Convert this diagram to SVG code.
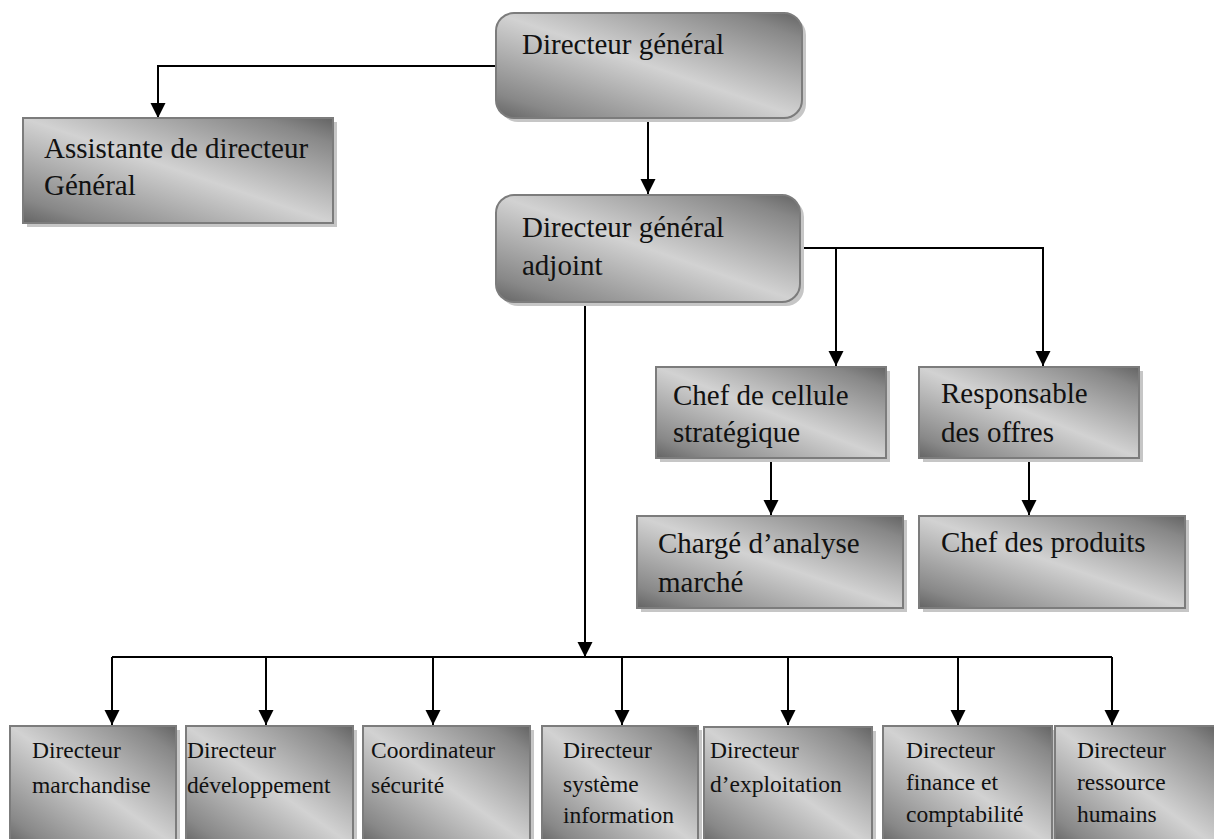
<svg xmlns="http://www.w3.org/2000/svg" width="1214" height="839" viewBox="0 0 1214 839">
  <defs>
    <!-- diagonal metallic fill: dark top-right and bottom-left, light band across the middle -->
    <linearGradient id="metal" x1="1" y1="0" x2="0" y2="1">
      <stop offset="0" stop-color="#646464"/>
      <stop offset="0.12" stop-color="#888888"/>
      <stop offset="0.5" stop-color="#d2d2d2"/>
      <stop offset="0.88" stop-color="#888888"/>
      <stop offset="1" stop-color="#646464"/>
    </linearGradient>
    <marker id="arrow" markerUnits="userSpaceOnUse" markerWidth="16" markerHeight="16" refX="15" refY="7.5" orient="auto">
      <path d="M0,0 L15,7.5 L0,15 Z" fill="#000"/>
    </marker>
  </defs>
  <style>
    .box { fill: url(#metal); stroke: #7c7c7c; stroke-width: 2; }
    .shadow { fill: #c6c6c6; }
    .lbl { font-size: 29px; fill: #111; }
    .sm { font-size: 23.5px; fill: #111; }
    .link { fill: none; stroke: #000; stroke-width: 2; }
  </style>

  <!-- connectors -->
  <g id="connectors">
    <path class="link" d="M496,66 H158 V118" marker-end="url(#arrow)"/>
    <path class="link" d="M648,118 V194" marker-end="url(#arrow)"/>
    <path class="link" d="M800,248 H1043 V366" marker-end="url(#arrow)"/>
    <path class="link" d="M836,248 V366" marker-end="url(#arrow)"/>
    <path class="link" d="M771,457 V515" marker-end="url(#arrow)"/>
    <path class="link" d="M1029,457 V515" marker-end="url(#arrow)"/>
    <path class="link" d="M585,302 V657" marker-end="url(#arrow)"/>
    <path class="link" d="M112,657 H1112"/>
    <path class="link" d="M112,657 V725" marker-end="url(#arrow)"/>
    <path class="link" d="M266,657 V725" marker-end="url(#arrow)"/>
    <path class="link" d="M433,657 V725" marker-end="url(#arrow)"/>
    <path class="link" d="M622,657 V725" marker-end="url(#arrow)"/>
    <path class="link" d="M788,657 V725" marker-end="url(#arrow)"/>
    <path class="link" d="M958,657 V725" marker-end="url(#arrow)"/>
    <path class="link" d="M1112,657 V725" marker-end="url(#arrow)"/>
  </g>

  <g font-family="Liberation Serif, serif">
  <g id="directeur-general">
    <rect class="shadow" x="500" y="17" width="306" height="105" rx="18"/>
    <rect class="box" x="496" y="13" width="306" height="105" rx="18"/>
    <text class="lbl" x="522" y="54">Directeur général</text>
  </g>

  <g id="assistante">
    <rect class="shadow" x="27" y="122" width="310" height="105"/>
    <rect class="box" x="23" y="118" width="310" height="105"/>
    <text class="lbl" x="44" y="158">Assistante de directeur</text>
    <text class="lbl" x="44" y="195">Général</text>
  </g>

  <g id="directeur-adjoint">
    <rect class="shadow" x="500" y="199" width="304" height="107" rx="18"/>
    <rect class="box" x="496" y="195" width="304" height="107" rx="18"/>
    <text class="lbl" x="522" y="237">Directeur général</text>
    <text class="lbl" x="522" y="275">adjoint</text>
  </g>

  <g id="chef-cellule">
    <rect class="shadow" x="660" y="371" width="230" height="91"/>
    <rect class="box" x="656" y="367" width="230" height="91"/>
    <text class="lbl" x="673" y="405">Chef de cellule</text>
    <text class="lbl" x="673" y="442">stratégique</text>
  </g>

  <g id="responsable-offres">
    <rect class="shadow" x="923" y="371" width="220" height="91"/>
    <rect class="box" x="919" y="367" width="220" height="91"/>
    <text class="lbl" x="941" y="403">Responsable</text>
    <text class="lbl" x="941" y="442">des offres</text>
  </g>

  <g id="charge-analyse">
    <rect class="shadow" x="641" y="520" width="266" height="92"/>
    <rect class="box" x="637" y="516" width="266" height="92"/>
    <text class="lbl" x="658" y="553">Chargé d’analyse</text>
    <text class="lbl" x="658" y="592">marché</text>
  </g>

  <g id="chef-produits">
    <rect class="shadow" x="923" y="520" width="266" height="92"/>
    <rect class="box" x="919" y="516" width="266" height="92"/>
    <text class="lbl" x="941" y="552">Chef des produits</text>
  </g>

  <g id="dir-marchandise">
    <rect class="shadow" x="14" y="730" width="166" height="120"/>
    <rect class="box" x="10" y="726" width="166" height="120"/>
    <text class="sm" x="32" y="758">Directeur</text>
    <text class="sm" x="32" y="793">marchandise</text>
  </g>

  <g id="dir-developpement">
    <rect class="shadow" x="190" y="730" width="167" height="120"/>
    <rect class="box" x="186" y="726" width="167" height="120"/>
    <text class="sm" x="187" y="758">Directeur</text>
    <text class="sm" x="187" y="793">développement</text>
  </g>

  <g id="coordinateur-securite">
    <rect class="shadow" x="367" y="730" width="167" height="120"/>
    <rect class="box" x="363" y="726" width="167" height="120"/>
    <text class="sm" x="371" y="758">Coordinateur</text>
    <text class="sm" x="371" y="793">sécurité</text>
  </g>

  <g id="dir-systeme-information">
    <rect class="shadow" x="546" y="730" width="156" height="120"/>
    <rect class="box" x="542" y="726" width="156" height="120"/>
    <text class="sm" x="563" y="758">Directeur</text>
    <text class="sm" x="563" y="792">système</text>
    <text class="sm" x="563" y="823">information</text>
  </g>

  <g id="dir-exploitation">
    <rect class="shadow" x="708" y="731" width="168" height="120"/>
    <rect class="box" x="704" y="727" width="168" height="120"/>
    <text class="sm" x="710" y="758">Directeur</text>
    <text class="sm" x="710" y="792">d’exploitation</text>
  </g>

  <g id="dir-finance">
    <rect class="shadow" x="887" y="730" width="169" height="120"/>
    <rect class="box" x="883" y="726" width="169" height="120"/>
    <text class="sm" x="906" y="758">Directeur</text>
    <text class="sm" x="906" y="790">finance et</text>
    <text class="sm" x="906" y="822">comptabilité</text>
  </g>

  <g id="dir-ressource-humaines">
    <rect class="shadow" x="1059" y="730" width="160" height="120"/>
    <rect class="box" x="1055" y="726" width="160" height="120"/>
    <text class="sm" x="1077" y="758">Directeur</text>
    <text class="sm" x="1077" y="790">ressource</text>
    <text class="sm" x="1077" y="822">humains</text>
  </g>
  </g>
</svg>
